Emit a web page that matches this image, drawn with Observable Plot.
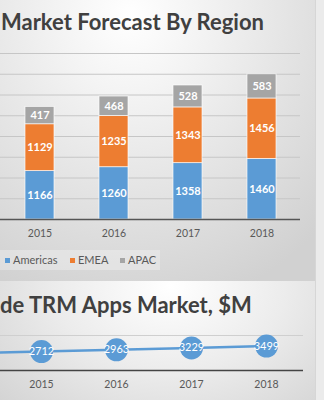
<!DOCTYPE html>
<html><head><meta charset="utf-8">
<script src="https://cdn.jsdelivr.net/npm/d3@7"></script>
<script src="https://cdn.jsdelivr.net/npm/@observablehq/plot@0.6"></script>
<style>
body{margin:0;background:#ececec;}
#wrap{position:relative;width:324px;height:400px;overflow:hidden;font-family:Lato,"Open Sans",sans-serif;background:#ebebeb;}
.panel{position:absolute;left:0;width:315px;}
#p1{top:0;height:281px;background:radial-gradient(ellipse 270px 300px at 130px 15px,#ffffff 0%,#f4f4f4 25%,#d1d1d1 100%);}
#p2{top:281px;height:119px;background:radial-gradient(ellipse 230px 170px at 170px 5px,#ffffff 0%,#ececec 50%,#d4d4d4 100%);}
#edge{position:absolute;left:315px;top:0;width:1px;height:400px;background:#d6d6d6;}
.title{position:absolute;font-weight:bold;font-size:22px;color:#404040;white-space:nowrap;line-height:1;}
#legend{position:absolute;left:0;top:250px;width:160px;height:20px;background:rgba(255,255,255,0.28);font-size:11px;color:#595959;}
.li{position:absolute;top:0;height:20px;line-height:20px;white-space:nowrap;}
.sw{display:inline-block;width:5px;height:5px;margin-right:3px;vertical-align:middle;position:relative;top:-1px;}
.chart{position:absolute;left:0;}
</style>
</head><body>
<div id="wrap">
  <div class="panel" id="p1"></div>
  <div class="panel" id="p2"></div>
  <div id="edge"></div>
  <div class="title" id="t1" style="left:1px;top:11px;">Market Forecast By Region</div>
  <div class="title" id="t2" style="left:0px;top:294px;">de TRM Apps Market, $M</div>
  <div id="legend"></div>
  <div class="chart" id="c1" style="top:40px;"></div>
  <div class="chart" id="c2" style="top:320px;"></div>
</div>
<script>
const years = ["2015", "2016", "2017", "2018"];
const regions = ["Americas", "EMEA", "APAC"];
const regionColors = ["#5B9BD5", "#ED7D31", "#A5A5A5"];
const americas = [1166, 1260, 1358, 1460];
const emea = [1129, 1235, 1343, 1456];
const apac = [417, 468, 528, 583];

const totalYears = ["2014", "2015", "2016", "2017", "2018"];
const totals = [2490, 2712, 2963, 3229, 3499];

const stacked = [];
years.forEach((y, i) => {
  stacked.push({year: y, region: "Americas", value: americas[i]});
  stacked.push({year: y, region: "EMEA", value: emea[i]});
  stacked.push({year: y, region: "APAC", value: apac[i]});
});
const line = totalYears.map((y, i) => ({year: y, value: totals[i]}));
const shown = line.filter(d => years.includes(d.year));

const grid1 = d3.range(500, 4001, 500);
const chart1 = Plot.plot({
  width: 324, height: 200,
  marginTop: 13, marginBottom: 21, marginLeft: 0, marginRight: 24,
  style: {background: "transparent", fontFamily: "Lato, sans-serif"},
  x: {domain: years, range: [1.5, 300], paddingInner: 0.61, paddingOuter: 0.305, label: null},
  y: {domain: [0, 4000], axis: null},
  color: {domain: regions, range: regionColors},
  marks: [
    Plot.ruleY(grid1, {stroke: "#c6c6c6", strokeWidth: 1}),
    Plot.barY(stacked, {x: "year", y: "value", fill: "region", stroke: "#ffffff", strokeWidth: 0.8, strokeOpacity: 0.8, order: regions}),
    Plot.text(stacked, Plot.stackY({x: "year", y: "value", z: "region", order: regions, text: d => String(d.value), fill: "white", fontSize: 11, fontWeight: "bold"})),
    Plot.ruleY([0], {stroke: "#555555", strokeWidth: 1.6}),
    Plot.axisX({tickSize: 0, tickPadding: 10, fontSize: 10.5, color: "#595959", label: null})
  ]
});
document.getElementById("c1").appendChild(chart1);

const chart2 = Plot.plot({
  width: 324, height: 80,
  marginTop: 15, marginBottom: 30, marginLeft: 0, marginRight: 21,
  style: {background: "transparent", fontFamily: "Lato, sans-serif"},
  x: {type: "point", domain: totalYears, range: [-34, 266], padding: 0, label: null},
  y: {domain: [0, 5000], axis: null},
  marks: [
    Plot.ruleY([5000], {stroke: "#cfcfcf", strokeWidth: 1}),
    Plot.line(line, {x: "year", y: "value", stroke: "#5B9BD5", strokeWidth: 2.5}),
    Plot.dot(shown, {x: "year", y: "value", r: 11.5, fill: "#5B9BD5", stroke: "none"}),
    Plot.text(shown, {x: "year", y: "value", text: d => String(d.value), fill: "white", fontSize: 11}),
    Plot.ruleY([0], {stroke: "#444444", strokeWidth: 1.6}),
    Plot.axisX({ticks: years, tickSize: 0, tickPadding: 10, fontSize: 10.5, color: "#595959", label: null})
  ]
});
document.getElementById("c2").appendChild(chart2);

const legendPos = [5, 70, 120];
const legend = document.getElementById("legend");
regions.forEach((r, i) => {
  const d = document.createElement("div");
  d.className = "li";
  d.style.left = legendPos[i] + "px";
  d.innerHTML = `<span class="sw" style="background:${regionColors[i]}"></span>${r}`;
  legend.appendChild(d);
});
</script>
</body></html>
